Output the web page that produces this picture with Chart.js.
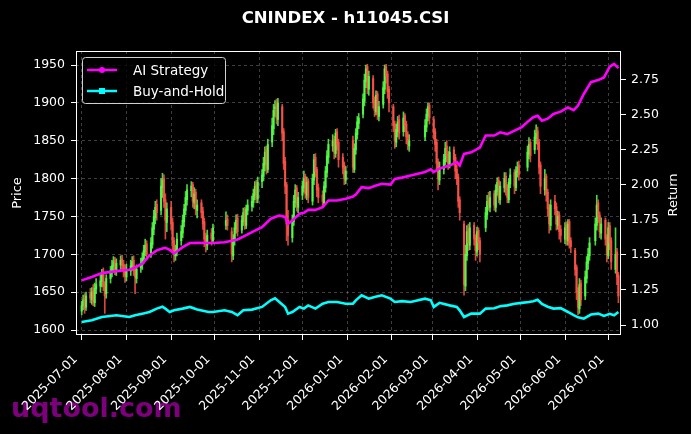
<!DOCTYPE html>
<html>
<head>
<meta charset="utf-8">
<script src="https://cdn.jsdelivr.net/npm/chart.js@4.4.1/dist/chart.umd.min.js"></script>
<style>
  html, body { margin: 0; padding: 0; background: #000; }
  canvas { display: block; }
</style>
</head>
<body>
<canvas id="chart" width="691" height="434"></canvas>
<script>
// trading calendar (weekdays minus exchange holidays)
const START = '2025-07-01';
const END = '2026-07-08';
const holidays = [
  '2025-10-01', '2025-10-02', '2025-10-03', '2025-10-06', '2025-10-07', '2025-10-08',
  '2026-01-01', '2026-01-02',
  '2026-02-16', '2026-02-17', '2026-02-18', '2026-02-19', '2026-02-20', '2026-02-23',
  '2026-04-06', '2026-05-01', '2026-05-04', '2026-05-05', '2026-06-19'
];
const monthTicks = [
  '2025-07-01', '2025-08-01', '2025-09-01', '2025-10-01', '2025-11-01', '2025-12-01',
  '2026-01-01', '2026-02-01', '2026-03-01', '2026-04-01', '2026-05-01', '2026-06-01', '2026-07-01'
];
const priceTicks = [1600, 1650, 1700, 1750, 1800, 1850, 1900, 1950];
const returnTicks = [1.00, 1.25, 1.50, 1.75, 2.00, 2.25, 2.50, 2.75];

// daily candles, one row per week
const opens = [
  1625, 1632, 1642, 1630,
  1648, 1640, 1652, 1636, 1654,
  1658, 1664, 1675, 1660, 1648,
  1668, 1676, 1684, 1692, 1679,
  1686, 1694, 1687, 1680, 1670,
  1678, 1684, 1692, 1679, 1668,
  1682, 1686, 1694, 1703, 1714,
  1702, 1713, 1733, 1748, 1766,
  1758, 1788, 1800, 1772, 1742,
  1762, 1742, 1718, 1698, 1704,
  1718, 1728, 1743, 1758, 1772,
  1784, 1792, 1768, 1782, 1758,
  1768, 1757, 1743, 1722, 1712,
  1728, 1718,
  1738, 1747,
  1730, 1698, 1718, 1733, 1748,
  1732, 1743, 1758, 1738, 1758,
  1763, 1768, 1778, 1792, 1773,
  1796, 1803, 1818, 1838, 1812,
  1848, 1866, 1892, 1898, 1878,
  1895, 1862, 1823, 1792, 1745,
  1722, 1743, 1768, 1788, 1762,
  1778, 1788, 1803, 1778, 1797,
  1770, 1798, 1828, 1812, 1788,
  1778, 1768, 1788, 1808, 1828,
  1843, 1852, 1833, 1862, 1848,
  1828, 1818, 1798,
  1850, 1812, 1838, 1858, 1873,
  1885, 1902, 1928, 1948, 1918,
  1932, 1903, 1888, 1912, 1882,
  1898, 1918, 1948, 1938, 1918,
  1895, 1872, 1848, 1862, 1878,
  1862, 1883, 1872, 1858, 1843,
  1855, 1868, 1882, 1897,
  1878, 1862, 1848, 1822, 1798,
  1812, 1822, 1843, 1832, 1818,
  1838, 1828, 1812, 1802, 1772,
  1740, 1658, 1698, 1733, 1712,
  1738, 1722, 1703, 1732, 1718,
  1735, 1752, 1773, 1762,
  1780, 1762, 1783, 1798, 1772,
  1788, 1803, 1788, 1772, 1793,
  1808, 1788, 1808, 1818,
  1815, 1832, 1848,
  1838, 1853, 1863, 1848, 1818,
  1785, 1803, 1782, 1762, 1738,
  1770, 1763, 1738, 1752, 1733,
  1720, 1738, 1718, 1743, 1718,
  1705, 1683, 1652, 1628, 1662,
  1645, 1668, 1688, 1698,
  1718, 1738, 1768, 1752, 1728,
  1745, 1722, 1698, 1738, 1718,
  1680, 1703, 1672
];
const highs = [
  1638, 1646, 1648, 1650,
  1655, 1656, 1660, 1662, 1668,
  1674, 1680, 1682, 1664, 1673,
  1684, 1692, 1697, 1696, 1694,
  1698, 1699, 1692, 1686, 1687,
  1692, 1697, 1698, 1684, 1686,
  1695, 1702, 1712, 1720, 1718,
  1722, 1742, 1758, 1770, 1772,
  1800, 1807, 1805, 1780, 1768,
  1770, 1748, 1722, 1712, 1728,
  1738, 1752, 1766, 1783, 1792,
  1796, 1795, 1788, 1786, 1772,
  1772, 1762, 1748, 1728, 1732,
  1734, 1740,
  1756, 1752,
  1735, 1726, 1742, 1752, 1753,
  1751, 1761, 1762, 1765, 1772,
  1777, 1786, 1796, 1798, 1802,
  1812, 1828, 1842, 1843, 1852,
  1880, 1898, 1903, 1905, 1906,
  1898, 1866, 1828, 1795, 1758,
  1752, 1778, 1792, 1791, 1782,
  1797, 1810, 1806, 1802, 1800,
  1806, 1832, 1833, 1815, 1793,
  1784, 1796, 1816, 1837, 1852,
  1858, 1856, 1865, 1866, 1852,
  1833, 1822, 1816,
  1856, 1846, 1866, 1882, 1886,
  1912, 1938, 1950, 1951, 1942,
  1936, 1908, 1916, 1915, 1902,
  1928, 1950, 1951, 1942, 1922,
  1898, 1876, 1872, 1882, 1884,
  1888, 1886, 1876, 1862, 1858,
  1878, 1892, 1900, 1900,
  1882, 1866, 1852, 1826, 1822,
  1832, 1848, 1850, 1836, 1842,
  1842, 1832, 1818, 1806, 1776,
  1744, 1712, 1738, 1740, 1742,
  1742, 1726, 1736, 1735, 1722,
  1762, 1778, 1782, 1783,
  1784, 1792, 1801, 1802, 1796,
  1808, 1808, 1792, 1800, 1813,
  1812, 1816, 1822, 1823,
  1843, 1854, 1852,
  1864, 1871, 1868, 1852, 1822,
  1812, 1806, 1786, 1766, 1772,
  1778, 1768, 1757, 1756, 1738,
  1742, 1743, 1746, 1746, 1722,
  1708, 1686, 1656, 1668, 1666,
  1678, 1697, 1708, 1722,
  1748, 1778, 1772, 1756, 1748,
  1748, 1726, 1742, 1742, 1722,
  1735, 1708, 1676
];
const lows = [
  1620, 1627, 1622, 1626,
  1636, 1634, 1632, 1631, 1648,
  1650, 1657, 1652, 1622, 1642,
  1662, 1670, 1677, 1673, 1672,
  1680, 1678, 1670, 1663, 1665,
  1672, 1679, 1672, 1648, 1662,
  1676, 1680, 1688, 1698, 1693,
  1696, 1708, 1726, 1740, 1745,
  1752, 1775, 1762, 1720, 1730,
  1732, 1705, 1690, 1692, 1698,
  1712, 1722, 1736, 1752, 1765,
  1776, 1762, 1760, 1752, 1748,
  1748, 1733, 1710, 1703, 1706,
  1712, 1714,
  1733, 1732,
  1690, 1693, 1712, 1728, 1724,
  1728, 1738, 1733, 1734, 1752,
  1757, 1762, 1772, 1768, 1768,
  1788, 1797, 1810, 1806, 1808,
  1842, 1858, 1882, 1872, 1870,
  1850, 1812, 1780, 1718, 1712,
  1716, 1738, 1762, 1757, 1755,
  1772, 1782, 1774, 1772, 1768,
  1765, 1792, 1802, 1776, 1768,
  1762, 1764, 1782, 1802, 1820,
  1836, 1826, 1828, 1838, 1815,
  1806, 1792, 1793,
  1808, 1808, 1832, 1852, 1866,
  1880, 1896, 1920, 1912, 1910,
  1893, 1882, 1884, 1878, 1876,
  1893, 1912, 1926, 1906, 1888,
  1862, 1840, 1842, 1855, 1852,
  1856, 1862, 1846, 1838, 1836,
  1850, 1862, 1876, 1872,
  1852, 1836, 1810, 1785, 1792,
  1806, 1818, 1822, 1812, 1814,
  1818, 1800, 1792, 1762, 1745,
  1646, 1652, 1692, 1705, 1706,
  1712, 1692, 1698, 1706, 1690,
  1730, 1746, 1758, 1756,
  1758, 1756, 1778, 1768, 1766,
  1782, 1778, 1768, 1768, 1788,
  1780, 1784, 1802, 1798,
  1810, 1826, 1822,
  1833, 1846, 1838, 1806, 1780,
  1778, 1770, 1750, 1728, 1732,
  1752, 1732, 1733, 1720, 1716,
  1714, 1712, 1712, 1708, 1702,
  1672, 1640, 1620, 1622, 1632,
  1640, 1662, 1680, 1692,
  1712, 1732, 1742, 1722, 1720,
  1712, 1690, 1694, 1706, 1680,
  1675, 1660, 1636
];
const closes = [
  1632, 1640, 1628, 1645,
  1642, 1650, 1638, 1655, 1660,
  1665, 1672, 1658, 1645, 1668,
  1678, 1685, 1690, 1680, 1688,
  1692, 1685, 1678, 1672, 1680,
  1685, 1690, 1678, 1670, 1680,
  1688, 1695, 1705, 1712, 1700,
  1715, 1735, 1750, 1762, 1755,
  1790, 1798, 1770, 1745, 1760,
  1740, 1715, 1700, 1705, 1720,
  1730, 1745, 1760, 1775, 1785,
  1790, 1770, 1780, 1760, 1765,
  1755, 1740, 1720, 1715, 1725,
  1720, 1735,
  1745, 1738,
  1700, 1720, 1735, 1745, 1730,
  1745, 1755, 1740, 1760, 1765,
  1770, 1780, 1790, 1775, 1795,
  1805, 1820, 1835, 1815, 1845,
  1870, 1890, 1895, 1880, 1900,
  1860, 1820, 1790, 1740, 1725,
  1745, 1770, 1785, 1765, 1775,
  1790, 1800, 1780, 1795, 1775,
  1800, 1825, 1810, 1785, 1775,
  1770, 1790, 1810, 1830, 1845,
  1850, 1835, 1860, 1845, 1825,
  1815, 1800, 1810,
  1815, 1840, 1860, 1875, 1880,
  1905, 1930, 1945, 1920, 1935,
  1900, 1890, 1910, 1885, 1895,
  1920, 1945, 1935, 1915, 1900,
  1870, 1850, 1865, 1875, 1860,
  1880, 1870, 1855, 1845, 1850,
  1870, 1885, 1895, 1880,
  1860, 1845, 1820, 1800, 1815,
  1825, 1840, 1830, 1820, 1835,
  1825, 1810, 1800, 1770, 1755,
  1660, 1700, 1730, 1715, 1735,
  1720, 1705, 1730, 1715, 1700,
  1755, 1770, 1765, 1775,
  1765, 1785, 1795, 1775, 1790,
  1800, 1785, 1775, 1795, 1805,
  1790, 1810, 1815, 1805,
  1835, 1845, 1830,
  1855, 1860, 1845, 1815, 1790,
  1800, 1780, 1760, 1740, 1765,
  1760, 1740, 1750, 1730, 1725,
  1735, 1720, 1740, 1715, 1710,
  1680, 1650, 1630, 1660, 1640,
  1670, 1690, 1700, 1715,
  1740, 1765, 1750, 1730, 1740,
  1720, 1700, 1735, 1715, 1690,
  1700, 1670, 1645
];

// cumulative return curves (days since 2025-07-01)
const lineDays = [
  0, 7, 14, 24, 33, 37, 42, 47, 52, 56, 58, 61, 64, 70, 75, 80, 88, 91, 99, 104,
  108, 112, 118, 125, 131, 134, 137, 141, 143, 146, 151, 154, 157, 162, 167, 171, 177, 183, 188, 190,
  194, 199, 203, 208, 214, 217, 222, 228, 238, 242, 244, 248, 255, 260, 262, 265, 270, 276, 280, 286,
  290, 295, 300, 305, 310, 313, 316, 319, 323, 327, 332, 337, 341, 344, 348, 353, 358, 362, 366, 369, 372
];
const aiStrategy = [
  1.318, 1.342, 1.37, 1.384, 1.394, 1.41, 1.437, 1.496, 1.532, 1.545,
  1.55, 1.535, 1.51, 1.555, 1.584, 1.585, 1.584, 1.584, 1.59, 1.60,
  1.61, 1.63, 1.662, 1.697, 1.757, 1.77, 1.78, 1.77, 1.72, 1.745,
  1.793, 1.80, 1.82, 1.82, 1.84, 1.887, 1.887, 1.90, 1.915, 1.93,
  1.982, 1.975, 1.99, 2.006, 2.0, 2.04, 2.05, 2.065, 2.09, 2.11,
  2.09, 2.115, 2.136, 2.16, 2.136, 2.219, 2.23, 2.264, 2.35, 2.35,
  2.373, 2.36, 2.385, 2.41, 2.456, 2.48, 2.49, 2.456, 2.47, 2.504,
  2.52, 2.55, 2.53, 2.563, 2.646, 2.73, 2.745, 2.764, 2.84, 2.86,
  2.83
];
const buyHold = [
  1.022, 1.034, 1.057, 1.07, 1.057, 1.07, 1.081, 1.093, 1.117, 1.13,
  1.117, 1.093, 1.105, 1.117, 1.129, 1.11, 1.093, 1.093, 1.105, 1.093,
  1.07, 1.105, 1.11, 1.129, 1.176, 1.19, 1.164, 1.129, 1.081, 1.093,
  1.129, 1.117, 1.14, 1.117, 1.152, 1.164, 1.164, 1.152, 1.152, 1.176,
  1.212, 1.188, 1.2, 1.212, 1.188, 1.164, 1.17, 1.164, 1.188, 1.176,
  1.129, 1.158, 1.14, 1.129, 1.105, 1.057, 1.081, 1.081, 1.117, 1.12,
  1.134, 1.14, 1.152, 1.158, 1.164, 1.17, 1.18, 1.15, 1.13, 1.117,
  1.12, 1.093, 1.07, 1.055, 1.045, 1.075, 1.081, 1.065, 1.08, 1.07,
  1.093
];

const DAY = 86400000;
const t0 = Date.UTC(2025, 6, 1);
function dayOf(s) {
  const [y, m, d] = s.split('-').map(Number);
  return (Date.UTC(y, m - 1, d) - t0) / DAY;
}
function fmt(day) {
  return new Date(t0 + day * DAY).toISOString().slice(0, 10);
}

const tradeDays = [];
for (let d = dayOf(START); d <= dayOf(END); d++) {
  const wd = new Date(t0 + d * DAY).getUTCDay();
  if (wd === 0 || wd === 6) continue;
  if (holidays.includes(fmt(d))) continue;
  tradeDays.push(d);
}

const n = Math.min(tradeDays.length, closes.length);
const GREEN = 'rgba(84,255,70,0.85)';
const RED = 'rgba(255,82,72,0.85)';
const candleColors = [], wicks = [], bodies = [];
for (let i = 0; i < n; i++) {
  candleColors.push(closes[i] >= opens[i] ? GREEN : RED);
  wicks.push({ x: tradeDays[i], y: [lows[i], highs[i]] });
  bodies.push({ x: tradeDays[i], y: [opens[i], closes[i]] });
}

const FONT = 'DejaVu Sans';
const legendItems = [
  { label: 'AI Strategy', color: '#ff00ff', marker: 'circle' },
  { label: 'Buy-and-Hold', color: '#00ffff', marker: 'rect' }
];

const overlay = {
  id: 'overlay',
  beforeDraw(chart) {
    const c = chart.ctx;
    c.save();
    c.fillStyle = '#000';
    c.fillRect(0, 0, chart.width, chart.height);
    c.font = `bold 27px "${FONT}"`;
    c.fillStyle = 'rgba(139,0,139,0.9)';
    c.textBaseline = 'alphabetic';
    c.fillText('uqtool.com', 11, 417);
    c.restore();
  },
  afterDraw(chart) {
    const c = chart.ctx;
    const a = chart.chartArea;
    c.save();
    // spines
    c.strokeStyle = '#fff';
    c.lineWidth = 1;
    c.strokeRect(Math.round(a.left) + 0.5, Math.round(a.top) + 0.5,
      Math.round(a.right - a.left) - 1, Math.round(a.bottom - a.top) - 1);

    // right axis label reads bottom-to-top like matplotlib
    c.save();
    c.translate(674, 195);
    c.rotate(-Math.PI / 2);
    c.font = `13px "${FONT}"`;
    c.fillStyle = '#fff';
    c.textAlign = 'center';
    c.textBaseline = 'middle';
    c.fillText('Return', 0, 0);
    c.restore();

    // legend box
    const bx = 82.5, by = 57.5, bw = 143, bh = 46, r = 3;
    c.beginPath();
    c.moveTo(bx + r, by);
    c.arcTo(bx + bw, by, bx + bw, by + bh, r);
    c.arcTo(bx + bw, by + bh, bx, by + bh, r);
    c.arcTo(bx, by + bh, bx, by, r);
    c.arcTo(bx, by, bx + bw, by, r);
    c.closePath();
    c.fillStyle = 'rgba(0,0,0,0.8)';
    c.fill();
    c.strokeStyle = '#d0d0d0';
    c.stroke();

    legendItems.forEach((it, i) => {
      const y = 70 + i * 21;
      c.strokeStyle = it.color;
      c.fillStyle = it.color;
      c.lineWidth = 2.5;
      c.beginPath();
      c.moveTo(87, y);
      c.lineTo(117, y);
      c.stroke();
      if (it.marker === 'circle') {
        c.beginPath();
        c.arc(102, y, 3, 0, Math.PI * 2);
        c.fill();
      } else {
        c.fillRect(99, y - 3, 6, 6);
      }
      c.fillStyle = '#fff';
      c.font = `13.5px "${FONT}"`;
      c.textAlign = 'left';
      c.textBaseline = 'middle';
      c.fillText(it.label, 133, y + 1);
    });
    c.restore();
  }
};

const tickFont = { family: FONT, size: 12.5 };
const gridColor = 'rgba(255,255,255,0.3)';

new Chart(document.getElementById('chart').getContext('2d'), {
  type: 'bar',
  data: {
    datasets: [
      {
        type: 'line', label: 'AI Strategy', yAxisID: 'y2', order: 0,
        data: lineDays.map((d, i) => ({ x: d, y: aiStrategy[i] })),
        borderColor: '#ff00ff', borderWidth: 2.6, pointRadius: 0, tension: 0
      },
      {
        type: 'line', label: 'Buy-and-Hold', yAxisID: 'y2', order: 0,
        data: lineDays.map((d, i) => ({ x: d, y: buyHold[i] })),
        borderColor: '#00ffff', borderWidth: 2.6, pointRadius: 0, tension: 0
      },
      {
        label: 'wick', yAxisID: 'y', order: 2, grouped: false,
        data: wicks, backgroundColor: candleColors, barThickness: 1, borderWidth: 0
      },
      {
        label: 'body', yAxisID: 'y', order: 1, grouped: false,
        data: bodies, backgroundColor: candleColors, barThickness: 1.5, borderWidth: 0, minBarLength: 1
      }
    ]
  },
  options: {
    responsive: false,
    animation: false,
    events: [],
    devicePixelRatio: 1,
    layout: { padding: 0 },
    plugins: {
      legend: { display: false },
      tooltip: { enabled: false },
      title: {
        display: true,
        text: 'CNINDEX - h11045.CSI',
        color: '#fff',
        font: { family: FONT, size: 16.5, weight: 'bold' },
        padding: { top: 9, bottom: 22.2 }
      }
    },
    scales: {
      x: {
        type: 'linear',
        min: -3.95,
        max: 373.8,
        offset: false,
        afterBuildTicks: s => { s.ticks = monthTicks.map(t => ({ value: dayOf(t) })); },
        afterFit: s => { s.height = 99; },
        grid: { color: gridColor, lineWidth: 0.8, offset: false, tickColor: '#fff', tickLength: 5, tickWidth: 1 },
        border: { display: false, dash: [3, 3] },
        ticks: {
          color: '#fff', font: tickFont, autoSkip: false,
          minRotation: 45, maxRotation: 45, padding: 12, labelOffset: -6,
          callback: v => fmt(v)
        }
      },
      y: {
        position: 'left',
        min: 1593.4,
        max: 1968.5,
        afterBuildTicks: s => { s.ticks = priceTicks.map(v => ({ value: v })); },
        afterFit: s => { s.width = 76; },
        grid: { color: gridColor, lineWidth: 0.8, tickColor: '#fff', tickLength: 5, tickWidth: 1 },
        border: { display: false, dash: [3, 3] },
        ticks: { color: '#fff', font: tickFont, padding: 6, callback: v => String(v) },
        title: { display: true, text: 'Price', color: '#fff', font: { family: FONT, size: 13 }, padding: { top: 10, bottom: 0 } }
      },
      y2: {
        position: 'right',
        min: 0.929,
        max: 2.952,
        afterBuildTicks: s => { s.ticks = returnTicks.map(v => ({ value: v })); },
        afterFit: s => { s.width = 70; },
        grid: { drawOnChartArea: false, tickColor: '#fff', tickLength: 5, tickWidth: 1 },
        border: { display: false },
        ticks: { color: '#fff', font: tickFont, padding: 5, callback: v => v.toFixed(2) }
      }
    }
  },
  plugins: [overlay]
});
</script>
</body>
</html>
